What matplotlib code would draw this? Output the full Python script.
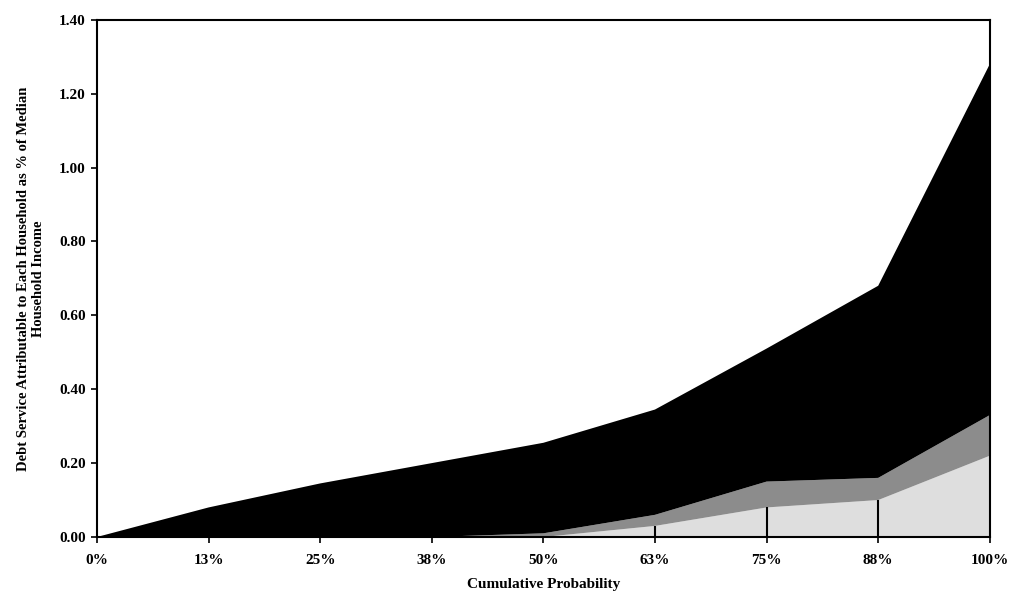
import numpy as np
import matplotlib.pyplot as plt

plt.rcParams["font.family"] = ["Liberation Serif", "DejaVu Serif"]
plt.rcParams["font.weight"] = "bold"

prob_labels = ["0%", "13%", "25%", "38%", "50%", "63%", "75%", "88%", "100%"]
# stacked layers (bottom to top)
light_layer = [0.0, 0.0, 0.0, 0.0, 0.0, 0.03, 0.08, 0.10, 0.22]
mid_layer = [0.0, 0.0, 0.0, 0.0, 0.01, 0.03, 0.07, 0.06, 0.11]
dark_layer = [0.0, 0.08, 0.145, 0.20, 0.245, 0.285, 0.36, 0.52, 0.95]

x = np.arange(len(prob_labels))

fig = plt.figure(figsize=(10.1, 5.98), dpi=100)
ax = fig.add_axes([0.096, 0.102, 0.884, 0.865])

ax.stackplot(x, light_layer, mid_layer, dark_layer,
             colors=["#dedede", "#8c8c8c", "black"], linewidth=0)
# drop lines at the lower series
ax.vlines(x[5:8], 0, np.array(light_layer)[5:8], color="black", lw=1.5)

ax.set_xlim(0, len(prob_labels) - 1)
ax.set_ylim(0, 1.4)
ax.set_xticks(x)
ax.set_xticklabels(prob_labels)
ax.set_yticks(np.arange(0, 1.41, 0.2))
ax.set_yticklabels(["%.2f" % v for v in np.arange(0, 1.41, 0.2)])
ax.tick_params(axis="x", direction="out", length=4, width=1.2, pad=8, labelsize=11)
ax.tick_params(axis="y", direction="out", length=4, width=1.2, pad=4, labelsize=11)
for s in ax.spines.values():
    s.set_linewidth(1.5)

ax.set_xlabel("Cumulative Probability", fontsize=11, fontweight="bold", labelpad=8)
ax.set_ylabel("Debt Service Attributable to Each Household as % of Median\nHousehold Income",
              fontsize=10.5, fontweight="bold", labelpad=10)

plt.savefig("out.png", dpi=100)
